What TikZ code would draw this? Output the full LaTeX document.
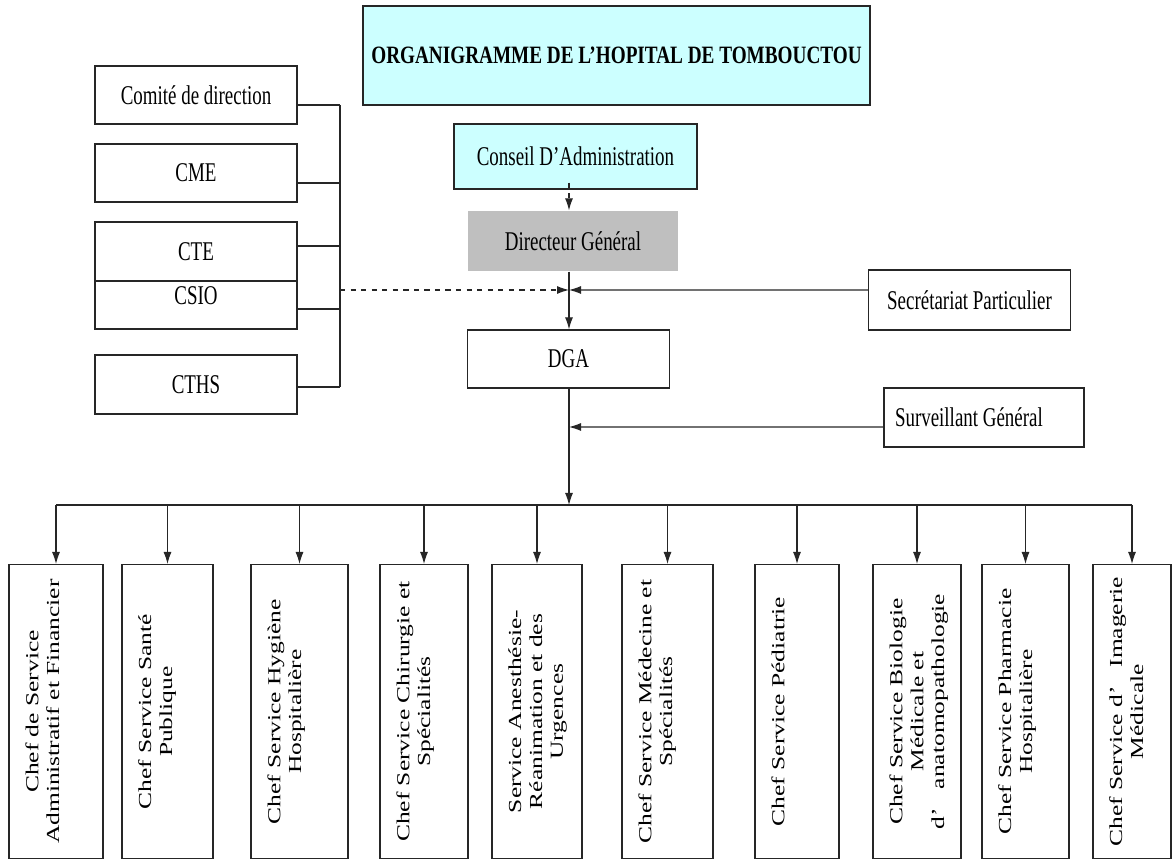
\documentclass[tikz,border=0pt]{standalone}
\usepackage{fontspec}
\setmainfont{Liberation Serif}
\newfontfamily\narrowfont[FakeStretch=0.7]{Liberation Serif}
\newfontfamily\titlefont[FakeStretch=0.77]{Liberation Serif}
\usetikzlibrary{arrows.meta,positioning}

\definecolor{titlecyan}{HTML}{CCFFFF}
\tikzset{
  box/.style={draw=black!85, line width=0.7pt, minimum width=40.4mm, minimum height=11.6mm,
    inner sep=1mm, font=\narrowfont\fontsize{15.4}{18}\selectfont},
  svcbox/.style={draw=black!85, line width=0.7pt, xscale=0.72, rotate=90, anchor=east,
    minimum width=58.8mm},
  svctext/.style={xscale=0.72, rotate=90, anchor=north, align=center, inner xsep=0pt,
    inner ysep=4.6mm, font=\fontsize{14.5}{16.5}\selectfont},
  link/.style={line width=0.6pt, black!85},
  arr/.style={link, -{Latex[length=2.4mm,width=1.6mm]}}
}

\begin{document}
\begin{tikzpicture}[x=0.2mm, y=-0.2mm]
    \useasboundingbox (0,0) rectangle (1173,859);

    % Title and direction chain
    \node[box, fill=titlecyan, minimum width=101.4mm, minimum height=19.8mm,
      font=\titlefont\bfseries\fontsize{14.2}{17}\selectfont] (title) at (616.5,55.5)
      {ORGANIGRAMME DE L’HOPITAL DE TOMBOUCTOU};
    \node[box, fill=titlecyan, minimum width=48.6mm, minimum height=13mm] (conseil) at (575.5,156.5) {Conseil D’Administration};
    \node[box, draw=none, fill=black!25, minimum width=42mm, minimum height=12mm] (dg) at (573,241) {Directeur Général};
    \node[box, minimum height=12mm] (secr) at (969.5,300) {Secrétariat Particulier};
    \node[box] (dga) at (568.5,359) {DGA};
    \node[box, minimum width=40mm, minimum height=11.8mm] (surv) at (984,417.5)
      {\makebox[35.6mm][l]{Surveillant Général}};

    % Committees on the left
    \node[box] (comite) at (196,95) {Comité de direction};
    \node[box] (cme) at (196,173) {CME};
    \node[box, minimum height=11.8mm] (cte) at (196,251.5) {CTE};
    \node[box, minimum height=9.6mm, text depth=3.6mm] (csio) at (196,305) {CSIO};
    \node[box, minimum height=11.8mm] (cths) at (196,384.5) {CTHS};

    \coordinate (bar) at (340,0);
    \coordinate (hub) at (569,290);
    \coordinate (survin) at (569,427);
    \coordinate (bus) at (569,505);

    % Committees joined on one bar
    \foreach \n/\s in {comite/-2mm, cme/-2mm, cte/1.1mm, csio/-0.8mm, cths/-0.5mm}
        \draw[link] ([yshift=\s]\n.east) -- ([yshift=\s]\n.east -| bar) coordinate (\n-j);
    \draw[link] (comite-j) -- (cths-j);
    \draw[arr, dashed] (hub -| bar) -- (hub);

    % Direction links
    \draw[arr, dashed] ([yshift=1.4mm]conseil.south -| hub) -- (dg.north -| hub);
    \draw[arr] (dg.south -| hub) -- (dga.north -| hub);
    \draw[arr] ([yshift=2mm]secr.west) -- (hub);
    \draw[arr] ([yshift=-1.9mm]surv.west) -- (survin);
    \draw[arr] (dga.south -| hub) -- (bus);

    % Services
    \foreach \i/\x/\bw/\txt in {
        1/56/26.1mm/{Chef de Service\\Administratif et Financier},
        2/167.5/25.3mm/{Chef Service Santé\\Publique},
        3/299.5/26.9mm/{Chef Service Hygiène\\Hospitalière},
        4/424/24.4mm/{Chef Service Chirurgie et\\Spécialités},
        5/537/25mm/{Service Anesthésie-\\Réanimation et des\\Urgences},
        6/667.5/25.3mm/{Chef Service Médecine et\\Spécialités},
        7/797/23.3mm/{Chef Service Pédiatrie},
        8/917/24.4mm/{Chef Service Biologie\\Médicale et\\d’~~~anatomopathologie},
        9/1025.5/24.2mm/{Chef Service Pharmacie\\Hospitalière},
        10/1132/21.7mm/{Chef Service d’~~~Imagerie\\Médicale}}
    {
        \node[svcbox, minimum height=\bw] (b\i) at (\x,564) {};
        \node[svctext] (t\i) at (b\i.north) {\txt};
        \draw[arr] (b\i.east |- bus) -- (b\i.east);
    }
    \draw[link] (b1.east |- bus) -- (b10.east |- bus);
\end{tikzpicture}
\end{document}
